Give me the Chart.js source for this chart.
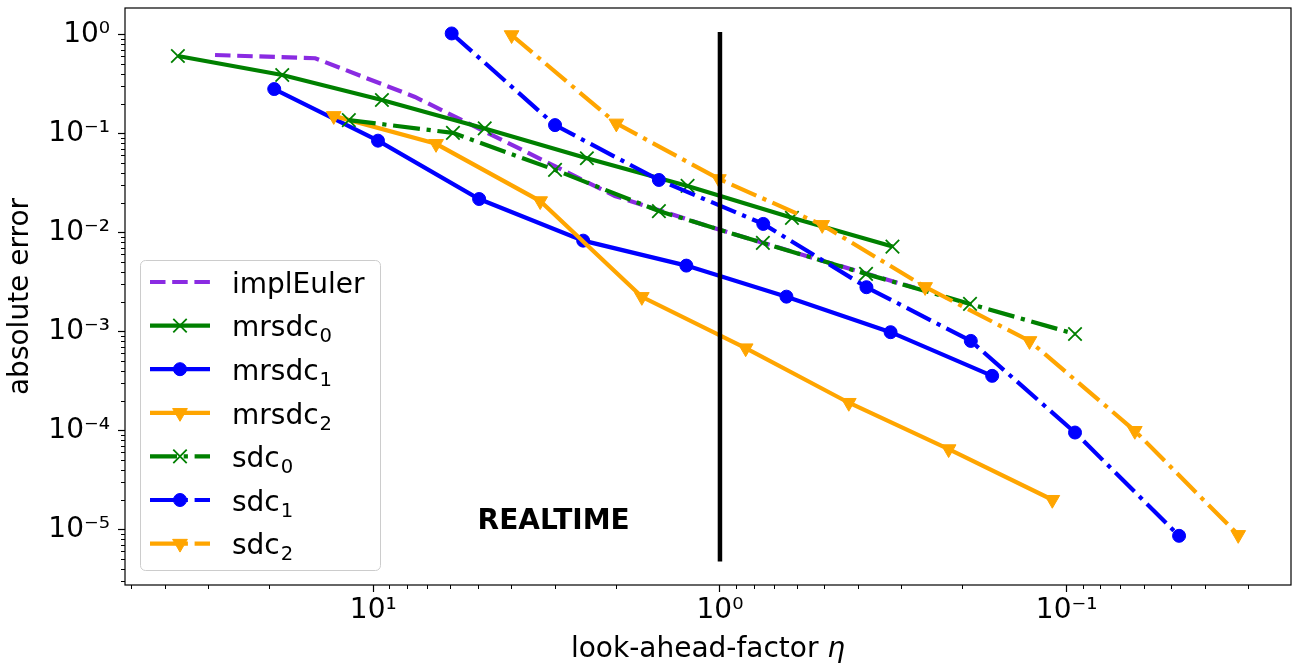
<!DOCTYPE html>
<html>
<head>
<meta charset="utf-8">
<script src="https://cdn.jsdelivr.net/npm/chart.js@4.4.1/dist/chart.umd.min.js"></script>
<style>
  html, body { margin: 0; padding: 0; background: #fff; }
  #wrap { width: 1294px; height: 664px; }
</style>
</head>
<body>
<div id="wrap"><canvas id="myChart" width="1294" height="664"></canvas></div>
<script>
// look-ahead factor (x) and absolute error (y) for each method
var implEulerX = [28.6, 14.7, 7.58, 3.90, 2.01, 1.035, 0.533, 0.274];
var implEulerY = [0.618, 0.573, 0.233, 0.0737, 0.0233, 0.0110, 0.00544, 0.00275];

var mrsdc0X = [36.6, 18.3, 9.44, 4.77, 2.42, 1.24, 0.62, 0.318];
var mrsdc0Y = [0.604, 0.388, 0.217, 0.112, 0.056, 0.0294, 0.014, 0.00718];

var mrsdc1X = [19.3, 9.69, 4.95, 2.48, 1.25, 0.643, 0.322, 0.164];
var mrsdc1Y = [0.280, 0.0843, 0.0217, 0.00824, 0.00461, 0.00224, 0.00098, 0.000355];

var mrsdc2X = [13.0, 6.59, 3.30, 1.68, 0.843, 0.425, 0.219, 0.110];
var mrsdc2Y = [0.150, 0.0783, 0.0207, 0.00223, 0.000676, 0.000190, 0.0000647, 0.0000199];

var sdc0X = [11.76, 5.89, 2.99, 1.50, 0.752, 0.379, 0.190, 0.0946];
var sdc0Y = [0.136, 0.101, 0.0427, 0.0164, 0.00781, 0.0038, 0.00189, 0.00094];

var sdc1X = [5.94, 2.99, 1.50, 0.750, 0.378, 0.189, 0.0946, 0.0474];
var sdc1Y = [1.02, 0.121, 0.0338, 0.01216, 0.00279, 0.0008, 0.000095, 0.0000086];

var sdc2X = [3.99, 1.99, 1.007, 0.507, 0.256, 0.128, 0.0636, 0.032];
var sdc2Y = [0.984, 0.126, 0.0346, 0.0119, 0.00281, 0.0008, 0.000099, 0.0000088];

// realtime marker (eta = 1)
var realtimeX = [1, 1];
var realtimeY = [0.000005, 1];
var realtimeLabel = 'REALTIME';
var realtimeLabelAt = [5, 0.00001];

var xTicks = [0.1, 1, 10];
var yTicks = [0.00001, 0.0001, 0.001, 0.01, 0.1, 1];
var xRange = [0.02254, 52.0];
var yRange = [0.00000274, 1.844];
var xTitle = ['look-ahead-factor ', '\u03B7'];

var FONT = 'DejaVu Sans';
var SOLID = [];
var DASHED = [15.5, 6.7];
var DASHDOT = [27, 6.7, 4.2, 6.7];

function pts(xs, ys) {
  return xs.map(function (x, i) { return { x: x, y: ys[i] }; });
}

function sup(n) {
  var map = { '-': '\u207B', '0': '\u2070', '1': '\u00B9', '2': '\u00B2', '3': '\u00B3',
    '4': '\u2074', '5': '\u2075', '6': '\u2076', '7': '\u2077', '8': '\u2078', '9': '\u2079' };
  return String(n).split('').map(function (c) { return map[c]; }).join('');
}

function series(label, xs, ys, color, dash, marker, order) {
  var ds = {
    label: label,
    data: pts(xs, ys),
    showLine: true,
    borderColor: color,
    backgroundColor: color,
    borderWidth: 4.2,
    borderDash: dash,
    pointStyle: marker || 'circle',
    pointRadius: 0,
    pointBorderColor: color,
    pointBackgroundColor: color,
    pointBorderWidth: 1,
    order: order
  };
  if (marker === 'circle') { ds.pointRadius = 6.5; }
  if (marker === 'crossRot') { ds.pointRadius = 9.5; ds.pointBorderWidth = 1.8; }
  if (marker === 'triangle') { ds.pointRadius = 8.5; ds.pointRotation = 180; }
  return ds;
}

var datasets = [
  series('implEuler', implEulerX, implEulerY, '#8a2be2', DASHED, null, 7),
  series('mrsdc_0', mrsdc0X, mrsdc0Y, '#008000', SOLID, 'crossRot', 6),
  series('mrsdc_1', mrsdc1X, mrsdc1Y, '#0000ff', SOLID, 'circle', 5),
  series('mrsdc_2', mrsdc2X, mrsdc2Y, '#ffa500', SOLID, 'triangle', 4),
  series('sdc_0', sdc0X, sdc0Y, '#008000', DASHDOT, 'crossRot', 3),
  series('sdc_1', sdc1X, sdc1Y, '#0000ff', DASHDOT, 'circle', 2),
  series('sdc_2', sdc2X, sdc2Y, '#ffa500', DASHDOT, 'triangle', 1),
  {
    label: 'realtime',
    data: pts(realtimeX, realtimeY),
    showLine: true,
    borderColor: '#000',
    borderWidth: 4.5,
    borderCapStyle: 'square',
    pointRadius: 0,
    order: 0,
    noLegend: true
  }
];

// minor ticks, frame, x title, REALTIME text and the in-plot legend
var decorPlugin = {
  id: 'decor',
  afterDatasetsDraw: function (chart) {
    var ctx = chart.ctx;
    var area = chart.chartArea;
    var xs = chart.scales.x, ys = chart.scales.y;

    ctx.save();
    ctx.fillStyle = '#000';
    ctx.font = 'bold 28px ' + FONT;
    ctx.textAlign = 'left';
    ctx.textBaseline = 'alphabetic';
    ctx.fillText(realtimeLabel, xs.getPixelForValue(realtimeLabelAt[0]), ys.getPixelForValue(realtimeLabelAt[1]));

    // x axis title with italic eta
    ctx.font = '28px ' + FONT;
    var w1 = ctx.measureText(xTitle[0]).width;
    ctx.font = 'italic 28px ' + FONT;
    var w2 = ctx.measureText(xTitle[1]).width;
    var tx0 = (area.left + area.right) / 2 - (w1 + w2) / 2;
    var tby = chart.height - 7.5;
    ctx.font = '28px ' + FONT;
    ctx.fillText(xTitle[0], tx0, tby);
    ctx.font = 'italic 28px ' + FONT;
    ctx.fillText(xTitle[1], tx0 + w1, tby);

    // minor ticks
    ctx.strokeStyle = '#000';
    ctx.lineWidth = 1;
    ctx.beginPath();
    for (var e = -7; e <= 2; e++) {
      for (var m = 2; m <= 9; m++) {
        var v = m * Math.pow(10, e);
        if (v > yRange[0] && v < yRange[1]) {
          var py = Math.round(ys.getPixelForValue(v)) + 0.5;
          ctx.moveTo(area.left - 4, py);
          ctx.lineTo(area.left, py);
        }
        if (v > xRange[0] && v < xRange[1]) {
          var px = Math.round(xs.getPixelForValue(v)) + 0.5;
          ctx.moveTo(px, area.bottom);
          ctx.lineTo(px, area.bottom + 4);
        }
      }
    }
    ctx.stroke();

    // frame
    ctx.lineWidth = 1.2;
    ctx.strokeRect(area.left, area.top, area.right - area.left, area.bottom - area.top);

    // legend
    var lx = area.left + 15, lw = 240, lh = 310;
    var ly = area.bottom - 15 - lh;
    ctx.beginPath();
    ctx.roundRect(lx + 0.5, ly + 0.5, lw, lh, 5);
    ctx.fillStyle = 'rgba(255,255,255,0.8)';
    ctx.fill();
    ctx.strokeStyle = '#cccccc';
    ctx.lineWidth = 1;
    ctx.stroke();

    var entries = chart.data.datasets.filter(function (d) { return !d.noLegend; });
    entries.forEach(function (d, i) {
      var cy = ly + 22 + i * 43.6;
      var x0 = lx + 10, x1 = lx + 70, xm = lx + 40;
      ctx.save();
      ctx.strokeStyle = d.borderColor;
      ctx.lineWidth = d.borderWidth;
      ctx.setLineDash(d.borderDash || []);
      ctx.lineDashOffset = 0;
      ctx.beginPath();
      ctx.moveTo(x0, cy);
      ctx.lineTo(x1, cy);
      ctx.stroke();
      ctx.setLineDash([]);
      if (d.pointRadius > 0) {
        var r = d.pointRadius;
        ctx.fillStyle = d.pointBackgroundColor;
        ctx.strokeStyle = d.pointBorderColor;
        ctx.lineWidth = d.pointBorderWidth;
        ctx.beginPath();
        if (d.pointStyle === 'circle') {
          ctx.arc(xm, cy, r, 0, Math.PI * 2);
          ctx.fill();
          ctx.stroke();
        } else if (d.pointStyle === 'crossRot') {
          var q = r * Math.SQRT1_2;
          ctx.moveTo(xm - q, cy - q); ctx.lineTo(xm + q, cy + q);
          ctx.moveTo(xm + q, cy - q); ctx.lineTo(xm - q, cy + q);
          ctx.stroke();
        } else if (d.pointStyle === 'triangle') {
          var s = r * Math.sin(Math.PI / 3);
          ctx.moveTo(xm, cy + r);
          ctx.lineTo(xm - s, cy - r / 2);
          ctx.lineTo(xm + s, cy - r / 2);
          ctx.closePath();
          ctx.fill();
          ctx.stroke();
        }
      }
      // label with optional subscript
      var parts = d.label.split('_');
      ctx.fillStyle = '#000';
      ctx.textAlign = 'left';
      ctx.textBaseline = 'alphabetic';
      ctx.font = '28px ' + FONT;
      var tx = lx + 92, base = cy + 10.7;
      ctx.fillText(parts[0], tx, base);
      if (parts[1]) {
        var w = ctx.measureText(parts[0]).width;
        ctx.font = '19.6px ' + FONT;
        ctx.fillText(parts[1], tx + w + 1, base + 6);
      }
      ctx.restore();
    });
    ctx.restore();
  }
};

Chart.defaults.font.family = FONT;
Chart.defaults.font.size = 28;
Chart.defaults.color = '#000';

var ctx = document.getElementById('myChart').getContext('2d');
var myChart = new Chart(ctx, {
  type: 'scatter',
  data: { datasets: datasets },
  plugins: [decorPlugin],
  options: {
    responsive: false,
    animation: false,
    devicePixelRatio: 1,
    layout: { autoPadding: false, padding: { top: 8, right: 3, left: 0, bottom: 0 } },
    plugins: {
      legend: { display: false },
      tooltip: { enabled: false }
    },
    scales: {
      x: {
        type: 'logarithmic',
        reverse: true,
        min: xRange[0],
        max: xRange[1],
        afterBuildTicks: function (s) {
          s.ticks = xTicks.map(function (v) { return { value: v }; });
        },
        afterFit: function (s) {
          s.height = 79;
          s.paddingLeft = 0;
          s.paddingRight = 0;
        },
        ticks: {
          autoSkip: false,
          maxRotation: 0,
          padding: 2,
          color: '#000',
          font: { size: 28 },
          callback: function (v) { return '10' + sup(Math.round(Math.log10(v))); }
        },
        grid: { drawOnChartArea: false, tickLength: 7, tickWidth: 1.2, tickColor: '#000' },
        border: { display: false },
        title: { display: false }
      },
      y: {
        type: 'logarithmic',
        min: yRange[0],
        max: yRange[1],
        afterBuildTicks: function (s) {
          s.ticks = yTicks.map(function (v) { return { value: v }; });
        },
        afterFit: function (s) {
          s.width = 125;
          s.paddingTop = 0;
          s.paddingBottom = 0;
        },
        ticks: {
          autoSkip: false,
          padding: 8,
          color: '#000',
          font: { size: 28 },
          callback: function (v) { return '10' + sup(Math.round(Math.log10(v))); }
        },
        grid: { drawOnChartArea: false, tickLength: 7, tickWidth: 1.2, tickColor: '#000' },
        border: { display: false },
        title: {
          display: true,
          text: 'absolute error',
          color: '#000',
          font: { size: 28 },
          padding: { top: 4, bottom: 0 }
        }
      }
    }
  }
});
</script>
</body>
</html>
